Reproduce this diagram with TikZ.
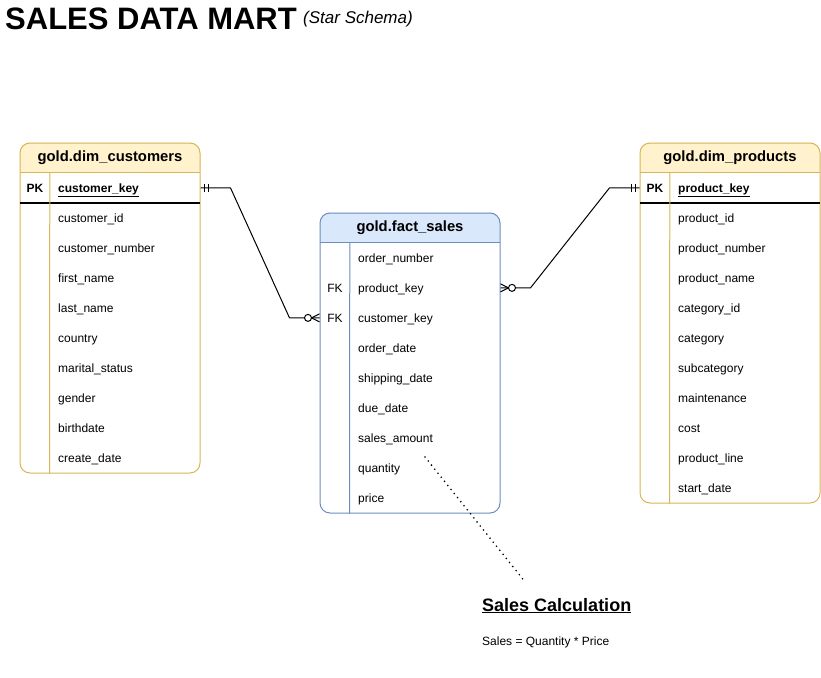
\documentclass[tikz,border=0pt]{standalone}
\usepackage{fontspec}
\setmainfont{Liberation Sans}
\usetikzlibrary{positioning, calc, backgrounds}
\definecolor{dimfill}{HTML}{FFF2CC}
\definecolor{dimline}{HTML}{D6B656}
\definecolor{factfill}{HTML}{DAE8FC}
\definecolor{factline}{HTML}{6C8EBF}

\begin{document}
\begin{tikzpicture}[x=1pt, y=-1pt,
  tbl/.style={rectangle, rounded corners=10pt, line width=1pt,
              minimum width=180pt, inner sep=0pt},
  hdr/.style={rectangle, minimum width=180pt, minimum height=30pt, inner sep=0pt,
              font=\fontsize{14.8}{17}\selectfont\bfseries},
  fld/.style={anchor=base west, inner sep=0pt, font=\fontsize{12}{14}\selectfont},
  tag/.style={anchor=base, inner sep=0pt, font=\fontsize{12}{14}\selectfont},
  rel/.style={line width=1pt, line join=round},
  dots/.style={line width=1.8pt, line cap=round, dash pattern=on 0pt off 5.2pt},
  onebar/.pic={
    \draw[line width=1pt] (4,-4) -- (4,4) (8,-4) -- (8,4);},
  crowzero/.pic={
    \draw[line width=1pt] (8,0) -- (0,-4) (8,0) -- (0,4);
    \draw[line width=1pt, fill=white] (11.5,0) circle (3.5pt);}
]
\useasboundingbox (0,0) rectangle (821,677);

% title
\node[anchor=base west, inner sep=0pt, font=\fontsize{31}{35}\selectfont\bfseries]
  (title) at (5,30) {SALES DATA MART};
\node[anchor=base west, inner sep=0pt, font=\fontsize{17}{20}\selectfont\itshape]
  (subtitle) at (303,24) {(Star Schema)};

% customers dimension
\node[tbl, draw=dimline, minimum height=330pt] (cust) at (110,308) {};
\node[hdr, anchor=north] (cust-h) at (cust.north) {gold.dim\_customers};
\node[tag, font=\fontsize{12}{14}\selectfont\bfseries] (cust-pk) at (35,192) {PK};
\node[fld, font=\fontsize{12}{14}\selectfont\bfseries] (cust-key) at (58,192)
  {\underline{customer\_key}};
\foreach \fname [count=\i] in {customer\_id, customer\_number, first\_name,
    last\_name, country, marital\_status, gender, birthdate, create\_date}
  \node[fld] (cust-\i) at (58,192+30*\i) {\fname};
\begin{scope}[on background layer]
  \fill[dimfill, rounded corners=10pt] (cust-h.south west) rectangle (cust-h.north east);
  \fill[dimfill] ($(cust-h.south west)+(0,-12)$) rectangle (cust-h.south east);
\end{scope}
\draw[dimline, line width=1pt] (cust-h.south west) -- (cust-h.south east);
\draw[line width=1.5pt] ($(cust-h.south west)+(0,30)$) -- ($(cust-h.south east)+(0,30)$);
\draw[dimline, line width=1pt] ($(cust-h.south west)+(30,0)$) -- ($(cust.south west)+(30,0)$);

% sales fact
\node[tbl, draw=factline, minimum height=300pt] (fact) at (410,363) {};
\node[hdr, anchor=north] (fact-h) at (fact.north) {gold.fact\_sales};
\node[tag] (fact-fk2) at (335,292) {FK};
\node[tag] (fact-fk3) at (335,322) {FK};
\foreach \fname [count=\i] in {order\_number, product\_key, customer\_key,
    order\_date, shipping\_date, due\_date, sales\_amount, quantity, price}
  \node[fld] (fact-\i) at (358,232+30*\i) {\fname};
\begin{scope}[on background layer]
  \fill[factfill, rounded corners=10pt] (fact-h.south west) rectangle (fact-h.north east);
  \fill[factfill] ($(fact-h.south west)+(0,-12)$) rectangle (fact-h.south east);
\end{scope}
\draw[factline, line width=1pt] (fact-h.south west) -- (fact-h.south east);
\draw[factline, line width=1pt] ($(fact-h.south west)+(30,0)$) -- ($(fact.south west)+(30,0)$);

% products dimension
\node[tbl, draw=dimline, minimum height=360pt] (prod) at (730,323) {};
\node[hdr, anchor=north] (prod-h) at (prod.north) {gold.dim\_products};
\node[tag, font=\fontsize{12}{14}\selectfont\bfseries] (prod-pk) at (655,192) {PK};
\node[fld, font=\fontsize{12}{14}\selectfont\bfseries] (prod-key) at (678,192)
  {\underline{product\_key}};
\foreach \fname [count=\i] in {product\_id, product\_number, product\_name,
    category\_id, category, subcategory, maintenance, cost, product\_line, start\_date}
  \node[fld] (prod-\i) at (678,192+30*\i) {\fname};
\begin{scope}[on background layer]
  \fill[dimfill, rounded corners=10pt] (prod-h.south west) rectangle (prod-h.north east);
  \fill[dimfill] ($(prod-h.south west)+(0,-12)$) rectangle (prod-h.south east);
\end{scope}
\draw[dimline, line width=1pt] (prod-h.south west) -- (prod-h.south east);
\draw[line width=1.5pt] ($(prod-h.south west)+(0,30)$) -- ($(prod-h.south east)+(0,30)$);
\draw[dimline, line width=1pt] ($(prod-h.south west)+(30,0)$) -- ($(prod.south west)+(30,0)$);

% relationships
\draw[rel] (cust.east |- cust-pk) -- ++(30,0)
  -- ($(fact.west |- fact-fk3)+(-30,0)$) -- (fact.west |- fact-fk3);
\draw[rel] (fact.east |- fact-fk2) -- ++(30,0)
  -- ($(prod.west |- prod-pk)+(-30,0)$) -- (prod.west |- prod-pk);
\path (cust.east |- cust-pk) pic {onebar};
\path (prod.west |- prod-pk) pic[xscale=-1] {onebar};
\path (fact.east |- fact-fk2) pic {crowzero};
\path (fact.west |- fact-fk3) pic[xscale=-1] {crowzero};

% note
\node[anchor=base west, inner sep=0pt, font=\fontsize{18}{21}\selectfont\bfseries]
  (calc-t) at (482,611) {\underline{Sales Calculation}};
\node[anchor=base west, inner sep=0pt, font=\fontsize{12}{14}\selectfont]
  (calc-f) at (482,645) {Sales = Quantity * Price};
\draw[dots] ($(fact-7.base west)+(67,15)$) -- ($(calc-t.north west)+(43,-16)$);
\end{tikzpicture}
\end{document}
